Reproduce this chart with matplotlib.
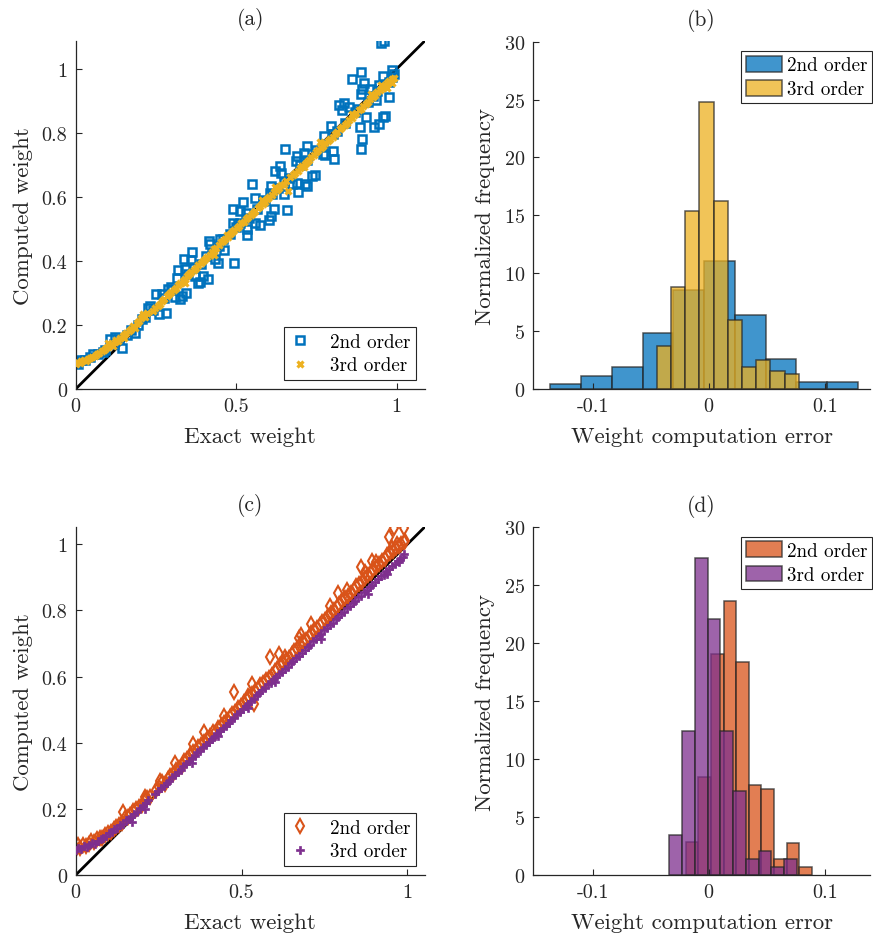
import numpy as np
import matplotlib
matplotlib.use("Agg")
import matplotlib.pyplot as plt
from matplotlib.ticker import FormatStrFormatter

plt.rcParams['font.family'] = 'serif'
plt.rcParams['font.serif'] = ['cmr10', 'DejaVu Serif']
plt.rcParams['mathtext.fontset'] = 'cm'
plt.rcParams['axes.unicode_minus'] = False
plt.rcParams['axes.formatter.use_mathtext'] = True

# ---------------- panel (a): 2nd / 3rd order, first case ----------------
a2_x = [0.952, 0.960, 0.890, 0.860, 0.899, 0.893, 0.921, 0.888, 0.957, 0.984, 0.976, 0.945, 0.934,
        0.820, 0.835, 0.828, 0.851, 0.904, 0.885, 0.929, 0.945, 0.956, 0.962, 0.893, 0.888, 0.796,
        0.773, 0.802, 0.806, 0.778, 0.770, 0.652, 0.719, 0.688, 0.685, 0.711, 0.744, 0.737, 0.690,
        0.692, 0.719, 0.713, 0.675, 0.622, 0.635, 0.640, 0.648, 0.658, 0.550, 0.609, 0.605, 0.617,
        0.609, 0.602, 0.584, 0.557, 0.521, 0.491, 0.513, 0.529, 0.560, 0.575, 0.491, 0.512, 0.534,
        0.534, 0.492, 0.449, 0.461, 0.416, 0.418, 0.435, 0.442, 0.412, 0.362, 0.336, 0.360, 0.341,
        0.320, 0.315, 0.344, 0.331, 0.310, 0.324, 0.372, 0.398, 0.388, 0.380, 0.287, 0.297, 0.251,
        0.268, 0.258, 0.282, 0.232, 0.226, 0.185, 0.107, 0.123, 0.143, 0.086, 0.055, 0.008,
        0.000, 0.016, 0.030, 0.044, 0.068, 0.092, 0.118, 0.135, 0.160, 0.172, 0.195, 0.205, 0.215,
        0.240, 0.275, 0.300, 0.350, 0.370, 0.390, 0.405, 0.425, 0.445, 0.460, 0.480, 0.500, 0.505,
        0.540, 0.565, 0.590, 0.612, 0.630, 0.650, 0.665, 0.700, 0.720, 0.750, 0.770, 0.800, 0.815,
        0.840, 0.870, 0.880, 0.910, 0.925, 0.940, 0.960, 0.975, 0.990, 0.985]
a2_y = [1.080, 1.086, 0.990, 0.969, 0.956, 0.938, 0.936, 0.920, 0.977, 0.998, 0.912, 0.951, 0.904,
        0.886, 0.894, 0.873, 0.881, 0.850, 0.819, 0.818, 0.829, 0.850, 0.852, 0.782, 0.751, 0.821,
        0.790, 0.743, 0.717, 0.730, 0.735, 0.751, 0.759, 0.728, 0.712, 0.736, 0.668, 0.666, 0.645,
        0.616, 0.634, 0.640, 0.641, 0.681, 0.696, 0.674, 0.610, 0.558, 0.641, 0.634, 0.613, 0.561,
        0.541, 0.527, 0.587, 0.598, 0.585, 0.561, 0.556, 0.551, 0.520, 0.511, 0.520, 0.518, 0.501,
        0.480, 0.395, 0.468, 0.435, 0.463, 0.452, 0.405, 0.395, 0.345, 0.428, 0.407, 0.403, 0.374,
        0.372, 0.348, 0.301, 0.291, 0.286, 0.280, 0.353, 0.353, 0.333, 0.330, 0.312, 0.318, 0.296,
        0.298, 0.234, 0.236, 0.258, 0.252, 0.175, 0.156, 0.161, 0.128, 0.114, 0.110, 0.078,
        0.083, 0.090, 0.092, 0.099, 0.108, 0.122, 0.140, 0.155, 0.170, 0.185, 0.200, 0.218, 0.226,
        0.248, 0.283, 0.308, 0.358, 0.380, 0.390, 0.415, 0.424, 0.446, 0.470, 0.485, 0.505, 0.515,
        0.535, 0.562, 0.590, 0.608, 0.628, 0.648, 0.660, 0.700, 0.715, 0.748, 0.762, 0.798, 0.805,
        0.830, 0.865, 0.875, 0.895, 0.915, 0.930, 0.950, 0.960, 0.985, 0.975]

a3_x = [0.000, 0.004, 0.012, 0.018, 0.025, 0.031, 0.038, 0.046, 0.052, 0.060, 0.066, 0.073, 0.081,
        0.088, 0.094, 0.101, 0.108, 0.115, 0.121, 0.127, 0.133, 0.139, 0.146, 0.152, 0.158, 0.165,
        0.171, 0.178, 0.184, 0.191, 0.197, 0.204, 0.210, 0.216, 0.222, 0.240, 0.248, 0.255, 0.262,
        0.270, 0.276, 0.283, 0.290, 0.298, 0.305, 0.312, 0.318, 0.326, 0.333, 0.340, 0.347, 0.353,
        0.360, 0.368, 0.374, 0.381, 0.389, 0.396, 0.403, 0.409, 0.417, 0.424, 0.431, 0.438, 0.446,
        0.452, 0.459, 0.466, 0.474, 0.481, 0.487, 0.494, 0.501, 0.508, 0.516, 0.523, 0.530, 0.538,
        0.545, 0.552, 0.560, 0.567, 0.574, 0.582, 0.589, 0.596, 0.603, 0.611, 0.618, 0.626, 0.633,
        0.640, 0.648, 0.655, 0.662, 0.669, 0.676, 0.684, 0.691, 0.698, 0.705, 0.713, 0.720, 0.727,
        0.734, 0.742, 0.749, 0.756, 0.764, 0.771, 0.778, 0.786, 0.793, 0.800, 0.808, 0.815, 0.823,
        0.830, 0.838, 0.845, 0.852, 0.860, 0.867, 0.874, 0.882, 0.889, 0.896, 0.904, 0.911, 0.918,
        0.926, 0.933, 0.940, 0.947, 0.955, 0.962, 0.969, 0.976, 0.984, 0.990,
        0.100, 0.150, 0.210, 0.340, 0.430, 0.470, 0.580, 0.620, 0.710, 0.760, 0.860, 0.920, 0.950,
        0.970, 0.985]
a3_y = [0.079, 0.085, 0.082, 0.088, 0.090, 0.087, 0.095, 0.098, 0.101, 0.104, 0.110, 0.112, 0.118,
        0.121, 0.127, 0.131, 0.137, 0.135, 0.146, 0.152, 0.149, 0.160, 0.166, 0.158, 0.175, 0.181,
        0.187, 0.196, 0.190, 0.205, 0.212, 0.221, 0.229, 0.224, 0.236, 0.243, 0.252, 0.258, 0.266,
        0.275, 0.281, 0.290, 0.297, 0.303, 0.309, 0.317, 0.325, 0.331, 0.336, 0.345, 0.352, 0.360,
        0.366, 0.372, 0.378, 0.386, 0.394, 0.400, 0.407, 0.411, 0.418, 0.429, 0.436, 0.441, 0.450,
        0.458, 0.463, 0.470, 0.476, 0.485, 0.490, 0.497, 0.503, 0.510, 0.517, 0.523, 0.531, 0.536,
        0.545, 0.551, 0.557, 0.566, 0.571, 0.579, 0.585, 0.592, 0.600, 0.606, 0.614, 0.621, 0.627,
        0.636, 0.641, 0.650, 0.617, 0.661, 0.667, 0.675, 0.681, 0.689, 0.697, 0.703, 0.710, 0.716,
        0.725, 0.731, 0.739, 0.746, 0.753, 0.760, 0.768, 0.774, 0.782, 0.788, 0.796, 0.803, 0.811,
        0.817, 0.826, 0.832, 0.839, 0.847, 0.855, 0.862, 0.870, 0.876, 0.884, 0.891, 0.898, 0.905,
        0.912, 0.919, 0.927, 0.934, 0.941, 0.948, 0.955, 0.962, 0.968, 0.973,
        0.145, 0.170, 0.235, 0.330, 0.420, 0.480, 0.590, 0.630, 0.695, 0.770, 0.860, 0.920, 0.950,
        0.940, 0.955]

# ---------------- panel (c): 2nd / 3rd order, second case ----------------
c2_x = [0.000, 0.006, 0.014, 0.022, 0.030, 0.039, 0.047, 0.055, 0.063, 0.072, 0.080, 0.089, 0.097,
        0.106, 0.114, 0.123, 0.131, 0.140, 0.148, 0.157, 0.165, 0.174, 0.182, 0.191, 0.199, 0.208,
        0.216, 0.225, 0.242, 0.251, 0.260, 0.268, 0.277, 0.285, 0.294, 0.302, 0.311, 0.319, 0.328,
        0.336, 0.345, 0.353, 0.362, 0.370, 0.379, 0.387, 0.396, 0.404, 0.413, 0.421, 0.430, 0.438,
        0.447, 0.455, 0.464, 0.472, 0.481, 0.489, 0.498, 0.506, 0.515, 0.523, 0.532, 0.540, 0.549,
        0.557, 0.566, 0.574, 0.583, 0.591, 0.600, 0.608, 0.617, 0.625, 0.634, 0.642, 0.651, 0.659,
        0.668, 0.676, 0.685, 0.693, 0.702, 0.710, 0.719, 0.727, 0.736, 0.744, 0.753, 0.761, 0.770,
        0.778, 0.787, 0.795, 0.804, 0.812, 0.821, 0.829, 0.838, 0.846, 0.855, 0.863, 0.872, 0.880,
        0.889, 0.897, 0.906, 0.914, 0.923, 0.931, 0.940, 0.948, 0.957, 0.965, 0.974, 0.982, 0.990,
        0.960, 0.990, 0.945, 0.992, 0.859, 0.893, 0.872, 0.792, 0.818, 0.768, 0.708, 0.673, 0.680,
        0.585, 0.612, 0.532, 0.476, 0.446, 0.537, 0.386, 0.355, 0.300, 0.255, 0.209, 0.144, 0.520,
        0.630, 0.955, 0.905, 0.970]
c2_y = [0.078, 0.090, 0.083, 0.092, 0.089, 0.095, 0.102, 0.099, 0.108, 0.113, 0.111, 0.122, 0.128,
        0.131, 0.140, 0.145, 0.150, 0.158, 0.171, 0.175, 0.180, 0.193, 0.200, 0.205, 0.212, 0.226,
        0.232, 0.237, 0.256, 0.266, 0.282, 0.276, 0.290, 0.298, 0.306, 0.318, 0.323, 0.331, 0.344,
        0.350, 0.362, 0.371, 0.376, 0.387, 0.393, 0.401, 0.412, 0.420, 0.431, 0.429, 0.444, 0.451,
        0.459, 0.470, 0.478, 0.486, 0.492, 0.505, 0.511, 0.523, 0.530, 0.537, 0.548, 0.556, 0.562,
        0.575, 0.581, 0.590, 0.596, 0.605, 0.618, 0.622, 0.634, 0.642, 0.650, 0.657, 0.668, 0.677,
        0.684, 0.697, 0.703, 0.712, 0.720, 0.731, 0.740, 0.748, 0.756, 0.766, 0.772, 0.784, 0.792,
        0.800, 0.809, 0.819, 0.828, 0.836, 0.845, 0.852, 0.862, 0.873, 0.880, 0.886, 0.897, 0.906,
        0.913, 0.924, 0.932, 0.941, 0.949, 0.956, 0.966, 0.974, 0.980, 0.988, 0.994, 1.002, 1.008,
        1.050, 1.048, 1.022, 1.010, 0.932, 0.948, 0.915, 0.854, 0.862, 0.814, 0.758, 0.718, 0.725,
        0.660, 0.668, 0.577, 0.552, 0.481, 0.517, 0.431, 0.396, 0.340, 0.285, 0.235, 0.189, 0.540,
        0.660, 0.990, 0.945, 1.000]

c3_x = [0.000, 0.008, 0.016, 0.024, 0.033, 0.041, 0.049, 0.058, 0.066, 0.075, 0.083, 0.092, 0.100,
        0.109, 0.117, 0.126, 0.134, 0.143, 0.151, 0.160, 0.168, 0.177, 0.185, 0.194, 0.202, 0.211,
        0.219, 0.240, 0.248, 0.257, 0.265, 0.274, 0.282, 0.291, 0.299, 0.308, 0.316, 0.325, 0.333,
        0.342, 0.350, 0.359, 0.367, 0.376, 0.384, 0.393, 0.401, 0.410, 0.418, 0.427, 0.435, 0.444,
        0.452, 0.461, 0.469, 0.478, 0.486, 0.495, 0.503, 0.512, 0.520, 0.529, 0.537, 0.546, 0.554,
        0.563, 0.571, 0.580, 0.588, 0.597, 0.605, 0.614, 0.622, 0.631, 0.639, 0.648, 0.656, 0.665,
        0.673, 0.682, 0.690, 0.699, 0.707, 0.716, 0.724, 0.733, 0.741, 0.750, 0.758, 0.767, 0.775,
        0.784, 0.792, 0.801, 0.809, 0.818, 0.826, 0.835, 0.843, 0.852, 0.860, 0.869, 0.877, 0.886,
        0.894, 0.903, 0.911, 0.920, 0.928, 0.937, 0.945, 0.954, 0.962, 0.971, 0.979, 0.987, 0.990,
        0.880, 0.940, 0.975, 0.740, 0.600, 0.520, 0.430, 0.350, 0.170, 0.210]
c3_y = [0.076, 0.083, 0.080, 0.088, 0.086, 0.092, 0.097, 0.095, 0.103, 0.108, 0.112, 0.118, 0.126,
        0.130, 0.138, 0.142, 0.150, 0.155, 0.165, 0.169, 0.176, 0.185, 0.190, 0.202, 0.208, 0.219,
        0.226, 0.245, 0.255, 0.262, 0.270, 0.278, 0.285, 0.296, 0.302, 0.312, 0.318, 0.329, 0.336,
        0.345, 0.355, 0.360, 0.371, 0.376, 0.386, 0.393, 0.402, 0.410, 0.418, 0.428, 0.434, 0.444,
        0.452, 0.460, 0.470, 0.476, 0.486, 0.493, 0.502, 0.510, 0.517, 0.527, 0.533, 0.543, 0.550,
        0.559, 0.566, 0.576, 0.582, 0.592, 0.598, 0.608, 0.614, 0.624, 0.630, 0.640, 0.647, 0.656,
        0.663, 0.672, 0.679, 0.690, 0.696, 0.706, 0.713, 0.723, 0.730, 0.740, 0.746, 0.756, 0.763,
        0.773, 0.779, 0.790, 0.796, 0.806, 0.812, 0.822, 0.829, 0.839, 0.845, 0.855, 0.861, 0.871,
        0.878, 0.887, 0.894, 0.903, 0.908, 0.918, 0.924, 0.934, 0.940, 0.950, 0.956, 0.962, 0.972,
        0.850, 0.910, 0.945, 0.715, 0.585, 0.505, 0.420, 0.340, 0.160, 0.200]

# ---------------- histograms (b) and (d): bin edges and pdf heights ----------------
b2_edges = [-0.1362, -0.1097, -0.0833, -0.0568, -0.0303, -0.0039, 0.0226, 0.0491, 0.0756, 0.1020, 0.1285]
b2_heights = [0.43, 1.15, 1.87, 4.81, 8.58, 11.03, 6.39, 2.59, 0.58, 0.58]
b3_edges = [-0.0447, -0.0325, -0.0202, -0.0080, 0.0043, 0.0165, 0.0287, 0.0410, 0.0532, 0.0655, 0.0777]
b3_heights = [3.74, 8.78, 15.35, 24.76, 16.27, 5.93, 1.87, 2.50, 1.58, 1.27]

d2_edges = [-0.0198, -0.0089, 0.0019, 0.0128, 0.0237, 0.0345, 0.0454, 0.0563, 0.0671, 0.0780, 0.0889]
d2_heights = [2.82, 8.46, 19.07, 23.64, 18.35, 7.74, 7.39, 1.38, 2.79, 0.69]
d3_edges = [-0.0339, -0.0229, -0.0119, -0.0009, 0.0101, 0.0211, 0.0321, 0.0431, 0.0541, 0.0651, 0.0761]
d3_heights = [3.42, 12.42, 27.32, 22.12, 12.42, 7.25, 1.35, 2.04, 0.66, 1.35]

BLUE = '#0072BD'
ORANGE = '#D95319'
YELLOW = '#EDB120'
PURPLE = '#7E2F8E'
AXC = '#262626'

fig = plt.figure(figsize=(8.73, 9.37), dpi=100)
axa = fig.add_axes([0.0867, 0.5838, 0.4001, 0.3717])
axb = fig.add_axes([0.6109, 0.5838, 0.3857, 0.3706])
axc = fig.add_axes([0.0867, 0.0651, 0.4001, 0.3717])
axd = fig.add_axes([0.6109, 0.0651, 0.3857, 0.3712])


def style(ax):
    for s in ['top', 'right']:
        ax.spines[s].set_visible(False)
    for s in ['left', 'bottom']:
        ax.spines[s].set_color(AXC)
        ax.spines[s].set_linewidth(0.9)
    ax.tick_params(direction='in', length=4, width=0.8, colors=AXC, labelsize=14.5,
                   labelcolor=AXC, pad=6)


def scatter_panel(ax, x2, y2, x3, y3, lim, m2, c2, ms2, mew2, m3, c3, ms3, mew3, title):
    ax.plot([0, 1.2], [0, 1.2], color='black', lw=2, zorder=1)
    ax.plot(x2, y2, ls='none', marker=m2, mfc='none', mec=c2, ms=ms2, mew=mew2,
            label='2nd order', zorder=2)
    ax.plot(x3, y3, ls='none', marker=m3, mfc=c3, mec=c3, ms=ms3, mew=mew3,
            label='3rd order', zorder=3)
    ax.set_xlim(0, lim)
    ax.set_ylim(0, lim)
    ax.set_xticks([0, 0.5, 1])
    ax.set_yticks([0, 0.2, 0.4, 0.6, 0.8, 1])
    ax.xaxis.set_major_formatter(FormatStrFormatter('%g'))
    ax.yaxis.set_major_formatter(FormatStrFormatter('%g'))
    style(ax)
    ax.set_xlabel('Exact weight', fontsize=16.5, color=AXC, labelpad=8)
    ax.set_ylabel('Computed weight', fontsize=16.5, color=AXC, labelpad=6)
    ax.set_title(title, fontsize=15.5, color=AXC, pad=12)
    leg = ax.legend(loc='lower right', fontsize=13.7, fancybox=False, framealpha=1,
                    edgecolor=AXC, handletextpad=1.1, borderpad=0.3, handlelength=1.0,
                    labelspacing=0.3, borderaxespad=0.0, bbox_to_anchor=(0.975, 0.026))
    leg.get_frame().set_linewidth(0.8)


def hist_panel(ax, e2, h2, e3, h3, c2, c3, title):
    e2 = np.array(e2)
    e3 = np.array(e3)
    ax.bar(e2[:-1], h2, width=np.diff(e2), align='edge', color=c2, alpha=0.75,
           edgecolor='#262626', linewidth=1.1, label='2nd order')
    ax.bar(e3[:-1], h3, width=np.diff(e3), align='edge', color=c3, alpha=0.75,
           edgecolor='#262626', linewidth=1.1, label='3rd order')
    ax.set_xlim(-0.151, 0.139)
    ax.set_ylim(0, 30)
    ax.set_xticks([-0.1, 0, 0.1])
    ax.set_xticklabels(['-0.1', '0', '0.1'])
    ax.set_yticks([0, 5, 10, 15, 20, 25, 30])
    style(ax)
    ax.set_xlabel('Weight computation error', fontsize=16.5, color=AXC, labelpad=8)
    ax.set_ylabel('Normalized frequency', fontsize=16.5, color=AXC, labelpad=6)
    ax.set_title(title, fontsize=15.5, color=AXC, pad=12)
    leg = ax.legend(loc='upper right', fontsize=13.7, fancybox=False, framealpha=1,
                    edgecolor=AXC, handletextpad=0.25, borderpad=0.25, handlelength=1.9,
                    handleheight=0.9, labelspacing=0.3, bbox_to_anchor=(1.005, 0.973),
                    borderaxespad=0.0)
    leg.get_frame().set_linewidth(0.8)


scatter_panel(axa, a2_x, a2_y, a3_x, a3_y, 1.088, 's', BLUE, 5.5, 1.8, 'x', YELLOW, 5, 2.3, '(a)')
hist_panel(axb, b2_edges, b2_heights, b3_edges, b3_heights, BLUE, YELLOW, '(b)')
scatter_panel(axc, c2_x, c2_y, c3_x, c3_y, 1.053, 'd', ORANGE, 7.5, 1.5, 'P', PURPLE, 6, 0.5, '(c)')
hist_panel(axd, d2_edges, d2_heights, d3_edges, d3_heights, ORANGE, PURPLE, '(d)')

fig.savefig('out.png', dpi=100)
